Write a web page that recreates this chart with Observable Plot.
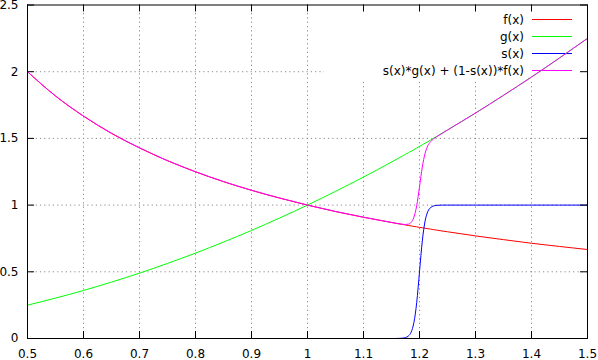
<!DOCTYPE html>
<html>
<head>
<meta charset="utf-8">
<script src="https://cdn.jsdelivr.net/npm/d3@7"></script>
<script src="https://cdn.jsdelivr.net/npm/@observablehq/plot@0.6"></script>
<style>
  html, body { margin: 0; padding: 0; background: #fff; }
  #chart svg { display: block; }
</style>
</head>
<body>
<div id="chart"></div>
<script>
// ---- data ----
const xs = [0.5,0.55,0.6,0.65,0.7,0.75,0.8,0.85,0.9,0.95,1.0,1.05,1.1,1.15,
  1.16,1.17,1.175,1.18,1.185,1.19,1.195,1.2,1.205,1.21,1.215,1.22,1.225,1.23,1.24,1.25,
  1.3,1.35,1.4,1.45,1.5];
const fVals = [2.000,1.818,1.667,1.538,1.429,1.333,1.250,1.176,1.111,1.053,1.000,0.952,0.909,0.870,
  0.862,0.855,0.851,0.847,0.844,0.840,0.837,0.833,0.830,0.826,0.823,0.820,0.816,0.813,0.806,0.800,
  0.769,0.741,0.714,0.690,0.667];
const gVals = [0.250,0.303,0.360,0.423,0.490,0.563,0.640,0.723,0.810,0.903,1.000,1.103,1.210,1.323,
  1.346,1.369,1.381,1.392,1.404,1.416,1.428,1.440,1.452,1.464,1.476,1.488,1.501,1.513,1.538,1.563,
  1.690,1.823,1.960,2.103,2.250];
const sVals = [0,0,0,0,0,0,0,0,0,0,0,0,0,0,
  0.0003,0.0025,0.007,0.018,0.047,0.119,0.269,0.5,0.731,0.881,0.953,0.982,0.993,0.998,1,1,
  1,1,1,1,1];
const blendVals = [2.000,1.818,1.667,1.538,1.429,1.333,1.250,1.176,1.111,1.053,1.000,0.952,0.909,0.870,
  0.862,0.856,0.855,0.857,0.870,0.909,0.996,1.137,1.285,1.388,1.446,1.476,1.496,1.511,1.537,1.563,
  1.690,1.823,1.960,2.103,2.250];

const seriesNames = ["f(x)", "g(x)", "s(x)", "s(x)*g(x) + (1-s(x))*f(x)"];
const seriesColors = ["#ff0000", "#00ff00", "#0000ff", "#ff00ff"];
const seriesValues = [fVals, gVals, sVals, blendVals];

const xTicks = [0.5,0.6,0.7,0.8,0.9,1.0,1.1,1.2,1.3,1.4,1.5];
const xTickLabels = ["0.5","0.6","0.7","0.8","0.9","1","1.1","1.2","1.3","1.4","1.5"];
const yTicks = [0,0.5,1,1.5,2,2.5];
const yTickLabels = ["0","0.5","1","1.5","2","2.5"];

// ---- build table ----
const rows = [];
seriesNames.forEach((name, k) => {
  xs.forEach((x, i) => rows.push({series: name, x, y: seriesValues[k][i]}));
});

const W = 598, H = 360;
const mL = 27, mR = 11, mT = 4.5, mB = 22;
const innerH = H - mT - mB, innerW = W - mL - mR;
const tickLen = 7;

const gridStyle = {stroke: "#8a8a8a", strokeOpacity: 1, strokeDasharray: "1.2,3.1"};

const plot = Plot.plot({
  width: W, height: H,
  marginLeft: mL, marginRight: mR, marginTop: mT, marginBottom: mB,
  style: {fontFamily: "DejaVu Sans", fontSize: "12px", color: "#000", background: "#fff"},
  x: {domain: [0.5, 1.5]},
  y: {domain: [0, 2.5]},
  marks: [
    Plot.gridX(xTicks.slice(1, -1), gridStyle),
    Plot.gridY(yTicks.slice(1, -1), gridStyle),
    ...seriesNames.map((name, k) =>
      Plot.line(rows.filter(d => d.series === name), {
        x: "x", y: "y", stroke: seriesColors[k], strokeWidth: 1, curve: "monotone-x"
      })
    ),
    Plot.frame({stroke: "#000", strokeWidth: 1}),
    // inward ticks: bottom, top, left, right
    Plot.tickX(xTicks, {x: d => d, stroke: "#000", insetTop: innerH - tickLen}),
    Plot.tickX(xTicks, {x: d => d, stroke: "#000", insetBottom: innerH - tickLen}),
    Plot.tickY(yTicks, {y: d => d, stroke: "#000", insetRight: innerW - tickLen}),
    Plot.tickY(yTicks, {y: d => d, stroke: "#000", insetLeft: innerW - tickLen}),
    Plot.axisX(xTicks, {tickSize: 0, tickPadding: 11, fill: "#000",
      tickFormat: (d, i) => xTickLabels[i], label: null}),
    Plot.axisY(yTicks, {tickSize: 0, tickPadding: 9, fill: "#000",
      tickFormat: (d, i) => yTickLabels[i], label: null})
  ]
});

document.getElementById("chart").appendChild(plot);

// ---- key (legend) placed like gnuplot's, blanking the grid behind it ----
const firstLine = plot.querySelector('g[aria-label="line"]');
const key = document.createElementNS("http://www.w3.org/2000/svg", "g");
plot.insertBefore(key, firstLine);
const gk = d3.select(key);
const keyRight = W - mR;
gk.append("rect")
  .attr("x", 324).attr("y", mT + 0.5)
  .attr("width", keyRight - 324).attr("height", 80 - mT)
  .attr("fill", "#fff");
const rowY0 = 19.5, rowStep = 17;
seriesNames.forEach((name, k) => {
  const y = rowY0 + k * rowStep;
  gk.append("text")
    .attr("x", 524).attr("y", y)
    .attr("text-anchor", "end")
    .attr("dy", "0.35em")
    .attr("font-family", "DejaVu Sans")
    .attr("font-size", 12)
    .attr("fill", "#000")
    .text(name);
  gk.append("line")
    .attr("x1", 532).attr("x2", 572)
    .attr("y1", y).attr("y2", y)
    .attr("stroke", seriesColors[k])
    .attr("stroke-width", 1);
});
</script>
</body>
</html>
